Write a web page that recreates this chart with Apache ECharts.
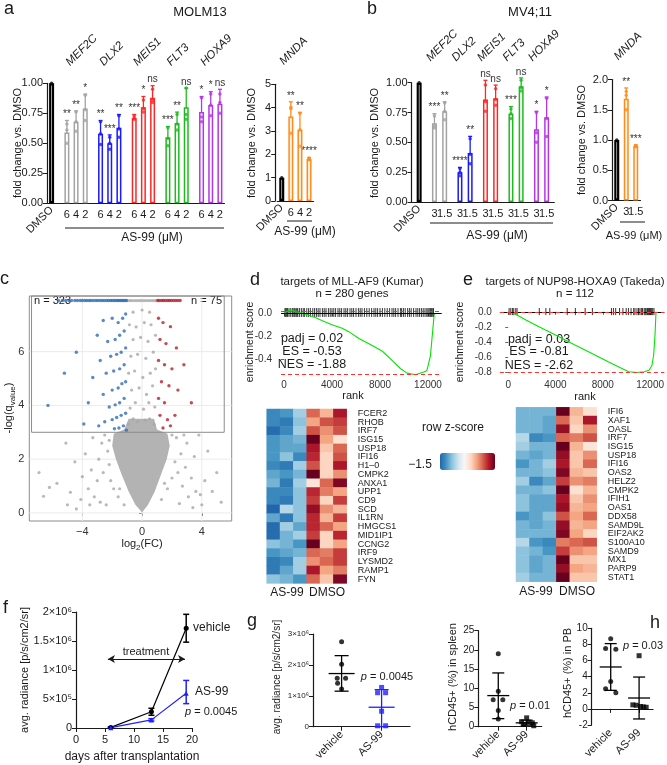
<!DOCTYPE html>
<html>
<head>
<meta charset="utf-8">
<title>AS-99 figure</title>
<style>
  html, body {margin:0; padding:0; background:#fff;}
  #main {width:667px; height:765px;}
</style>
</head>
<body>
<div id="main"></div>
<script src="https://cdn.jsdelivr.net/npm/echarts@6.0.0/dist/echarts.min.js"></script>
<script>
// ---------- a: MOLM13 ----------
var molmGenes = ['MEF2C', 'DLX2', 'MEIS1', 'FLT3', 'HOXA9'];
var molmDoses = ['6', '4', '2'];
var molmMean = [[0.59, 0.68, 0.79], [0.58, 0.50, 0.63], [0.71, 0.80, 0.88], [0.55, 0.67, 0.80], [0.76, 0.82, 0.83]];
var molmLo   = [[0.49, 0.58, 0.67], [0.47, 0.43, 0.52], [0.69, 0.72, 0.79], [0.46, 0.59, 0.65], [0.64, 0.71, 0.72]];
var molmHi   = [[0.69, 0.77, 0.91], [0.69, 0.57, 0.74], [0.74, 0.89, 0.98], [0.64, 0.76, 0.96], [0.89, 0.93, 0.95]];
var molmSig  = [['**', '**', '*'], ['**', '***', '**'], ['***', '*', 'ns'], ['***', '**', 'ns'], ['*', '*', 'ns']];
var molmPts  = [
  [[0.50, 0.61, 0.66], [0.60, 0.68, 0.76], [0.69, 0.78, 0.90]],
  [[0.49, 0.58, 0.68], [0.45, 0.50, 0.55], [0.55, 0.62, 0.73]],
  [[0.70, 0.71, 0.73], [0.76, 0.79, 0.86], [0.84, 0.86, 0.95]],
  [[0.48, 0.54, 0.63], [0.61, 0.66, 0.74], [0.70, 0.74, 0.96]],
  [[0.68, 0.72, 0.88], [0.73, 0.82, 0.91], [0.75, 0.84, 0.91]]
];
var molmMndaMean = [[3.62, 3.05, 1.80]];
var molmMndaLo   = [[3.00, 2.30, 1.74]];
var molmMndaHi   = [[4.25, 3.80, 1.86]];
var molmMndaSig  = [['**', '**', '****']];
var molmMndaPts  = [[[4.02, 3.95, 2.90], [3.75, 3.05, 2.35], [1.84, 1.78, 1.78]]];

// ---------- b: MV4;11 ----------
var mvGenes = ['MEF2C', 'DLX2', 'MEIS1', 'FLT3', 'HOXA9'];
var mvDoses = ['3', '1.5'];
var mvMean = [[0.66, 0.76], [0.25, 0.41], [0.86, 0.87], [0.74, 0.97], [0.61, 0.71]];
var mvLo   = [[0.61, 0.68], [0.21, 0.29], [0.72, 0.79], [0.69, 0.91], [0.47, 0.53]];
var mvHi   = [[0.74, 0.84], [0.29, 0.55], [1.02, 0.98], [0.80, 1.04], [0.76, 0.88]];
var mvSig  = [['***', '**'], ['****', '**'], ['ns', 'ns'], ['***', 'ns'], ['*', '*']];
var mvPts  = [
  [[0.62, 0.64, 0.72], [0.69, 0.76, 0.83]],
  [[0.22, 0.25, 0.28], [0.32, 0.40, 0.53]],
  [[0.76, 0.84, 0.98], [0.81, 0.86, 0.95]],
  [[0.70, 0.74, 0.78], [0.93, 0.96, 1.02]],
  [[0.50, 0.58, 0.75], [0.55, 0.70, 0.87]]
];
var mvMndaMean = [[1.68, 0.90]];
var mvMndaLo   = [[1.50, 0.88]];
var mvMndaHi   = [[1.86, 0.92]];
var mvMndaSig  = [['**', '***']];
var mvMndaPts  = [[[1.80, 1.74, 1.50], [0.91, 0.90, 0.89]]];

var geneColors = ['#a3a3a3', '#1a1aff', '#ff2626', '#1fba1f', '#b536e6'];
var mndaColor = '#ff8c1a';

// ---------- c: volcano ----------
var volcanoCore = [[0, 0.02], [-0.45, 0.3], [-0.9, 0.8], [-1.35, 1.4], [-1.75, 2.0], [-2.0, 2.5], [-1.9, 2.95],
  [-1.2, 3.1], [-0.9, 3.5], [0.8, 3.5], [1.0, 3.1], [1.7, 2.95], [1.85, 2.5], [1.65, 2.0], [1.25, 1.4], [0.85, 0.8],
  [0.4, 0.3]];
var volcanoGray = [[-6.6, 0.62], [-6.2, 0.95], [-5.7, 1.1], [-4.8, 0.77], [-4.0, 1.35], [-4.1, 0.5], [-3.6, 0.9], [-3.4, 1.6],
  [-3.2, 0.6], [-3.0, 1.2], [-2.9, 2.0], [-2.8, 0.4], [-2.7, 2.6], [-2.6, 1.5], [-2.5, 2.9], [-2.4, 0.3], [-2.3, 2.3],
  [-3.8, 2.2], [-4.5, 1.9], [-5.1, 2.6], [-6.9, 1.5], [-3.3, 2.8], [-2.2, 2.7], [-2.1, 1.2], [-1.9, 0.9], [-1.6, 0.6],
  [-1.2, 0.3], [-2.2, 1.8], [-1.5, 0.9], [-3.5, 0.3], [-5.0, 0.3], [-4.4, 0.15], [2.5, 0.35], [2.7, 1.0], [2.9, 1.7],
  [3.1, 0.6], [3.3, 1.3], [3.5, 2.1], [3.6, 0.8], [3.9, 0.68], [4.2, 1.2], [4.7, 0.8], [5.0, 1.5], [4.4, 2.3], [3.0, 2.6],
  [2.6, 2.2], [2.3, 2.8], [2.0, 2.9], [2.2, 1.9], [2.0, 1.3], [1.7, 0.9], [1.3, 0.5], [1.5, 1.1], [2.8, 2.9], [3.8, 2.9],
  [5.3, 0.4], [4.0, 0.3], [3.4, 0.2], [2.4, 1.5],
  [-0.9, 3.3], [-0.6, 3.5], [-0.3, 3.4], [0.2, 3.45], [0.5, 3.5], [0.8, 3.3], [-0.8, 3.9], [-0.45, 4.1], [0.1, 3.86],
  [0.45, 4.1], [0.85, 3.94], [-0.7, 4.57], [-0.2, 4.65], [0.3, 4.41], [0.7, 4.73], [-0.9, 5.2], [-0.5, 5.28], [0.05, 5.04],
  [0.55, 5.2], [0.9, 5.36], [-0.75, 5.83], [-0.3, 5.9], [0.25, 5.75], [0.75, 5.98], [-0.6, 6.45], [-0.1, 6.53],
  [0.4, 6.38], [0.9, 6.61], [-0.85, 7.0], [-0.4, 6.92], [0.15, 7.08], [0.6, 7.0], [-0.6, 7.47], [0.0, 7.55], [0.5, 7.47],
  [-0.95, 7.9], [-0.8, 7.9], [-0.66, 7.9], [-0.5, 7.9], [-0.36, 7.9], [-0.2, 7.9], [-0.06, 7.9], [0.1, 7.9],
  [0.24, 7.9], [0.4, 7.9], [0.55, 7.9], [0.7, 7.9], [0.84, 7.9], [0.96, 7.9]];
var volcanoDown = [[-5.6, 7.9], [-5.33, 7.9], [-5.12, 7.9], [-4.9, 7.9], [-4.72, 7.9], [-4.5, 7.9], [-4.33, 7.9],
  [-4.15, 7.9], [-4.0, 7.9], [-3.84, 7.9], [-3.7, 7.9], [-3.55, 7.9], [-3.42, 7.9], [-3.26, 7.9], [-3.1, 7.9],
  [-2.96, 7.9], [-2.8, 7.9], [-2.66, 7.9], [-2.52, 7.9], [-2.37, 7.9], [-2.25, 7.9], [-2.11, 7.9], [-2.0, 7.9],
  [-1.87, 7.9], [-1.76, 7.9], [-1.64, 7.9], [-1.55, 7.9], [-1.44, 7.9], [-1.34, 7.9], [-1.25, 7.9], [-1.14, 7.9],
  [-1.05, 7.9],
  [-1.1, 7.4], [-1.3, 7.24], [-1.6, 7.08], [-2.0, 7.24], [-2.6, 7.16], [-1.2, 6.77], [-1.5, 6.61], [-1.8, 6.45],
  [-2.3, 6.38], [-3.0, 6.61], [-1.1, 6.14], [-1.4, 5.98], [-1.7, 5.9], [-2.1, 5.83], [-2.8, 5.67], [-4.4, 5.98],
  [-1.2, 5.51], [-1.5, 5.36], [-1.9, 5.28], [-2.4, 5.2], [-3.3, 5.04], [-5.2, 5.2], [-1.1, 4.88], [-1.35, 4.81],
  [-1.6, 4.65], [-2.0, 4.57], [-2.6, 4.41], [-1.2, 4.26], [-1.5, 4.1], [-1.8, 4.02], [-2.2, 3.94], [-3.6, 4.1],
  [-1.1, 3.71], [-1.4, 3.63], [-1.7, 3.55], [-2.0, 3.47], [-2.5, 3.39], [-1.25, 3.24], [-1.55, 3.16], [-1.85, 3.13],
  [-2.9, 3.24], [-1.05, 3.08], [-6.3, 4.0], [-3.9, 3.31]];
var volcanoUp = [[1.05, 7.9], [1.15, 7.9], [1.3, 7.9], [1.42, 7.9], [1.55, 7.9], [1.7, 7.9], [1.82, 7.9],
  [1.95, 7.9], [2.1, 7.9], [2.25, 7.9], [2.4, 7.9], [2.55, 7.9],
  [1.1, 7.24], [1.4, 7.08], [1.9, 6.93], [1.2, 6.45], [1.6, 6.3], [2.3, 6.14], [1.1, 5.67], [1.5, 5.51], [2.0, 5.36],
  [2.8, 5.51], [1.3, 4.88], [1.8, 4.73], [2.4, 4.57], [1.1, 4.26], [1.5, 4.1], [1.2, 3.63], [1.7, 3.47], [2.2, 3.63],
  [1.4, 3.16], [3.3, 4.1], [1.9, 3.24]];
var volcanoBox = [[-7.4, 3.0, 5.5, 8.07]];
var volcanoCounts = ['n = 323', 'n = 75'];
var volcanoTicksX = [-4, 0, 4];
var volcanoTicksY = [0, 2, 4, 6];

// ---------- d / e: GSEA ----------
var rankTicks = [0, 4000, 8000, 12000];
var kumarCurve = [[0, 0], [250, 0.015], [550, 0.03], [900, 0.015], [1500, 0], [2000, -0.015], [2640, -0.04], [3300, -0.07],
  [4000, -0.10], [4850, -0.13], [5400, -0.16], [6240, -0.22], [7350, -0.28], [8200, -0.33], [9000, -0.41], [9700, -0.48],
  [10250, -0.52], [10950, -0.535], [11650, -0.51], [11900, -0.50], [12200, -0.37], [12470, -0.06], [12530, 0]];
var kumarRug = [80, 150, 230, 300, 420, 560, 700, 820, 900, 1000, 1080, 1150, 1300, 1450, 1600, 1700, 1900, 2050, 2200,
  2400, 2550, 2700, 2850, 3000, 3200, 3350, 3500, 3700, 3850, 4000, 4150, 4300, 4500, 4650, 4800, 5000, 5150, 5300,
  5500, 5650, 5800, 6000, 6200, 6350, 6500, 6700, 6900, 7100, 7300, 7500, 7650, 7800, 8000, 8200, 8400, 8600, 8800,
  9000, 9150, 9300, 9500, 9700, 9800, 9950, 10100, 10300, 10450, 10600, 10800, 11000, 11150, 11300, 11450, 11600,
  11750, 11900, 12000, 12100, 12200, 12300, 12400, 12450];
var kumarStats = [0.02, -0.53, -1.88];
var takedaCurve = [[0, 0], [300, -0.01], [700, -0.04], [1500, -0.11], [2600, -0.20], [3500, -0.27], [4500, -0.35],
  [5600, -0.44], [6500, -0.51], [7500, -0.59], [8500, -0.67], [9400, -0.74], [10200, -0.80], [10900, -0.81],
  [11500, -0.80], [11900, -0.78], [12150, -0.72], [12300, -0.58], [12420, -0.30], [12500, 0]];
var takedaRug = [80, 220, 360, 470, 640, 750, 2630, 3190, 3520, 4990, 5680, 6510, 7120, 8730, 8900, 9090, 9420, 9700,
  9980, 10170, 10390, 10610, 10720, 10890, 11020, 11140, 11260, 11360, 11500, 11590, 11670, 11780, 11860, 11950,
  12040, 12130, 12220, 12330];
var takedaStats = [0.03, -0.81, -2.62];

// ---------- heatmaps ----------
var heatCols = ['AS-99 r1', 'AS-99 r2', 'AS-99 r3', 'DMSO r1', 'DMSO r2', 'DMSO r3'];
var kumarGenes = ['FCER2', 'RHOB', 'IRF7', 'ISG15', 'USP18', 'IFI16', 'H1\u20130', 'CMPK2', 'ANXA1', 'UPP1', 'CD9', 'SCD',
  'IL1RN', 'HMGCS1', 'MID1IP1', 'CCNG2', 'IRF9', 'LYSMD2', 'RAMP1', 'FYN'];
var kumarZ = [
  [-1.25, -1.15, -0.75, 0.8, 0.4, 1.2], [-1.25, -1.35, -0.85, 0.5, 0.9, 1.0], [-1.45, -1.25, -0.75, 0.9, 0.6, 0.9],
  [-1.15, -1.05, -0.95, 1.5, 0.5, 0.1], [-1.15, -1.05, -1.05, 1.2, 0.3, 0.8], [-1.15, -0.85, -1.25, 1.1, 0.2, 0.9],
  [-1.25, -1.35, -0.75, 0.9, 0.2, 1.2], [-1.05, -1.15, -0.95, 1.5, 0.2, 0.6], [-0.95, -1.35, -0.75, 0.05, 0.8, 1.4],
  [-1.25, -1.25, -0.85, 1.1, 0.7, 0.5], [-1.25, -1.35, -0.85, 1.0, 0.2, 1.0], [-1.5, -0.65, -0.85, 1.3, 0.6, 0.4],
  [-1.05, -1.35, -0.85, 1.1, 0.4, 1.0], [-1.45, -0.75, -1.05, 1.1, 0.8, 0.5], [-1.45, -0.95, -0.75, 1.0, 0.2, 1.1],
  [-0.85, -0.95, -1.15, 1.6, 0.2, 0.5], [-1.15, -1.05, -0.95, 0.8, 0.7, 1.0], [-1.35, -1.25, -0.75, 0.6, 0.8, 1.0],
  [-1.35, -1.05, -0.75, 1.2, 0.5, 0.7], [-0.85, -0.95, -1.15, 0.8, 0.3, 1.4]];
var takedaGenes = ['IFI6', 'XAF1', 'OASL', 'IRF7', 'ISG15', 'USP18', 'IFI16', 'OAS2', 'HELZ2', 'CMPK2', 'IFIH1', 'OAS1',
  'DDX58', 'SAMD9L', 'EIF2AK2', 'S100A10', 'SAMD9', 'MX1', 'PARP9', 'STAT1'];
var takedaZ = [
  [-0.95, -0.95, -0.95, 1.6, 0.4, 0.1], [-0.95, -0.95, -1.05, 0.8, 0.3, 1.2], [-0.95, -0.95, -1.05, 1.3, 0.2, 0.6],
  [-0.65, -1.25, -1.15, 0.8, 0.7, 0.9], [-0.75, -0.95, -0.95, 1.6, 0.4, 0.05], [-0.95, -1.05, -0.95, 1.3, 0.3, 0.6],
  [-1.15, -0.95, -0.75, 1.2, 0.3, 0.8], [-0.95, -0.95, -0.85, 1.4, 0.4, 0.3], [-0.75, -1.25, -1.05, 1.0, 0.6, 0.7],
  [-0.95, -0.95, -0.85, 1.5, 0.1, 0.4], [-0.85, -1.05, -1.05, 1.2, 0.3, 0.6], [-0.85, -1.05, -1.05, 1.3, 0.4, 0.5],
  [-1.15, -1.05, -0.85, 0.9, 0.5, 0.8], [-0.95, -1.05, -0.95, 1.3, 0.4, 0.5], [-0.95, -0.95, -0.95, 1.4, 0.5, 0.2],
  [-0.65, -1.15, -1.25, 0.7, 0.8, 0.9], [-0.85, -0.95, -1.15, 1.0, 0.6, 0.5], [-0.85, -1.05, -0.95, 1.5, 0.3, 0.3],
  [-0.85, -1.05, -0.95, 1.3, 0.5, 0.4], [-0.75, -0.95, -0.95, 1.5, 0.3, 0.3]];
var heatColors = ['#2166ac', '#4393c3', '#92c5de', '#d1e5f0', '#f7f7f7', '#fddbc7', '#f4a582', '#d6604d', '#b2182b', '#67001f'];

// ---------- f: radiance over time ----------
var radDays = [6, 13, 19];
var vehRad = [0.01e6, 0.28e6, 1.72e6];
var vehRadLo = [0.0, 0.22e6, 1.48e6];
var vehRadHi = [0.02e6, 0.34e6, 1.96e6];
var asRad = [0.005e6, 0.14e6, 0.60e6];
var asRadLo = [0.0, 0.12e6, 0.42e6];
var asRadHi = [0.01e6, 0.16e6, 0.82e6];
var treatmentDays = [5.5, 18.8];
var radTickLabels = ['0', '5\u00d710\u2075', '1\u00d710\u2076', '1.5\u00d710\u2076', '2\u00d710\u2076'];

// ---------- g / h: scatter with mean + SD ----------
var groupNames = ['vehicle', 'AS-99'];
var gVeh = [[1, 2.75e6], [1, 2.02e6], [0.89, 1.57e6], [1.1, 1.57e6], [0.9, 1.41e6], [1, 1.22e6]];
var gAs = [[2, 1.27e6], [1.9, 1.1e6], [2.1, 1.1e6], [2, 0.5e6], [1.9, 0.03e6], [2.1, 0.03e6]];
var gStats = [[1, 1.72e6, 1.15e6, 2.3e6], [2, 0.63e6, 0.0, 1.2e6]];
var gTickLabels = ['0', '1\u00d710\u2076', '2\u00d710\u2076', '3\u00d710\u2076'];
var h1Veh = [[1, 19], [1, 9.2], [0.82, 7.0], [1.16, 7.0], [1, 4.2], [1, 2.0]];
var h1As = [[2, 2.3], [1.82, 1.3], [2.05, 1.2], [2.2, 1.0], [1.9, 0.6], [2.25, 0.25]];
var h1Stats = [[1, 8.1, 2.1, 14.0], [2, 1.0, 0.4, 1.7]];
var h2Veh = [[1, 8.7], [0.82, 7.5], [1.18, 7.4], [1, 3.4], [0.82, 2.5], [1.18, 2.0]];
var h2As = [[2, 6.6], [1.78, 0.5], [1.9, 0.45], [2.05, 0.3], [2.15, 0.25], [2.25, 0.2]];
var h2Stats = [[1, 5.2, 2.3, 8.1], [2, 1.35, -1.25, 3.95]];

// =====================================================================
var FONT = 'Liberation Sans';
var INK = '#1a1a1a';
var opt = {
  animation: false,
  textStyle: {fontFamily: FONT, color: INK},
  grid: [], xAxis: [], yAxis: [], series: [], graphic: [], visualMap: []
};

function txt(x, y, s, st) {
  var style = Object.assign({x: x, y: y, text: s, fontFamily: FONT, fontSize: 11, fill: INK,
    align: 'center', textAlign: 'center', verticalAlign: 'middle', textVerticalAlign: 'middle'}, st || {});
  opt.graphic.push({type: 'text', silent: true, style: style});
}
function vtxt(x, y, s, st) {
  var style = Object.assign({x: 0, y: 0, text: s, fontFamily: FONT, fontSize: 11, fill: INK,
    align: 'center', textAlign: 'center', verticalAlign: 'middle', textVerticalAlign: 'middle'}, st || {});
  opt.graphic.push({type: 'text', silent: true, x: x, y: y, rotation: Math.PI / 2, style: style});
}
function hline(x1, x2, y) {
  opt.graphic.push({type: 'line', silent: true, shape: {x1: x1, y1: y, x2: x2, y2: y}, style: {stroke: INK, lineWidth: 1}});
}

function addBarPanel(p) {
  var gi = opt.grid.length;
  opt.grid.push({left: p.left, top: p.top, width: p.width, height: p.height});
  var cats = [], lab = [], bars = [];
  for (var i = 0; i < p.total; i++) { cats.push('s' + i); lab.push(''); bars.push('-'); }
  var errs = [], sigs = [], dots = [], heads = [];
  bars[p.dmso] = {value: 1, itemStyle: {borderColor: '#000', borderWidth: 2.2}};
  dots.push({value: [p.dmso, 1], itemStyle: {color: '#000'}});
  p.genes.forEach(function (gene, g) {
    var col = p.colors[g];
    p.doses.forEach(function (dose, m) {
      var s = p.slot(g, m);
      lab[s] = dose;
      bars[s] = {value: p.mean[g][m], itemStyle: {borderColor: col}};
      errs.push({value: [s, p.lo[g][m], p.hi[g][m]], itemStyle: {color: col}});
      sigs.push(p.sig[g][m]);
      p.pts[g][m].forEach(function (v) { dots.push({value: [s, v], itemStyle: {color: col}}); });
    });
    heads.push({value: [p.geneSlot(g), p.ymax], name: gene});
  });
  var xi = opt.xAxis.length, yi = opt.yAxis.length;
  opt.xAxis.push({gridIndex: gi, type: 'category', data: cats,
    axisLine: {lineStyle: {color: INK, width: 1.2}},
    axisTick: {alignWithLabel: true, length: 4, lineStyle: {color: INK},
      interval: function (idx) { return lab[idx] !== '' || idx === p.dmso; }},
    axisLabel: {interval: 0, margin: 6, fontSize: 11, color: INK, hideOverlap: false,
      formatter: function (v, idx) { return lab[idx]; }}});
  opt.xAxis.push({gridIndex: gi, type: 'category', data: cats, position: 'bottom',
    axisLine: {show: false}, axisTick: {show: false},
    axisLabel: {interval: 0, rotate: 45, margin: 5, fontSize: 11, color: INK,
      formatter: function (v, idx) { return idx === p.dmso ? 'DMSO' : ''; }}});
  opt.yAxis.push({gridIndex: gi, type: 'value', min: 0, max: p.ymax, interval: p.yint, offset: p.yoff || 0,
    axisLine: {show: true, lineStyle: {color: INK, width: 1.2}},
    axisTick: {show: true, length: 4, lineStyle: {color: INK}}, splitLine: {show: false},
    axisLabel: {fontSize: 11, margin: 4, color: INK, formatter: function (v) { return v.toFixed(p.ydec); }}});
  opt.series.push({type: 'bar', xAxisIndex: xi, yAxisIndex: yi, data: bars, barWidth: 5, silent: true,
    itemStyle: {color: p.fill || '#fff', borderWidth: 1.5}});
  opt.series.push({type: 'scatter', xAxisIndex: xi, yAxisIndex: yi, data: dots, symbolSize: 3.5, clip: false, silent: true});
  opt.series.push({type: 'custom', xAxisIndex: xi, yAxisIndex: yi, data: errs, clip: false, silent: true,
    renderItem: function (params, api) {
      var a = api.coord([api.value(0), api.value(1)]);
      var b = api.coord([api.value(0), api.value(2)]);
      var st = {stroke: api.visual('color'), lineWidth: 1.3};
      return {type: 'group', children: [
        {type: 'line', shape: {x1: a[0], y1: a[1], x2: b[0], y2: b[1]}, style: st},
        {type: 'line', shape: {x1: a[0] - 2, y1: a[1], x2: a[0] + 2, y2: a[1]}, style: st},
        {type: 'line', shape: {x1: b[0] - 2, y1: b[1], x2: b[0] + 2, y2: b[1]}, style: st},
        {type: 'text', style: {text: sigs[params.dataIndex], x: b[0], y: b[1] - 1, fontSize: 10, fill: '#333',
          fontFamily: FONT, align: 'center', textAlign: 'center', verticalAlign: 'bottom', textVerticalAlign: 'bottom'}}
      ]};
    }});
  // rotated gene names above each group
  opt.series.push({type: 'custom', xAxisIndex: xi, yAxisIndex: yi, data: heads, clip: false, silent: true,
    renderItem: function (params, api) {
      var c = api.coord([api.value(0), api.value(1)]);
      return {type: 'text', x: c[0] + p.headDx, y: c[1] - p.headDy, rotation: Math.PI / 4,
        style: {text: heads[params.dataIndex].name, fontSize: 11.5, fontStyle: 'italic', fontFamily: FONT, fill: INK,
          align: 'left', textAlign: 'left', verticalAlign: 'bottom', textVerticalAlign: 'bottom'}};
    }});
}

// a main
addBarPanel({left: 47, top: 83.3, width: 177.5, height: 120, total: 58, dmso: 1,
  slot: function (g, m) { return 6 + 11 * g + 3 * m; }, geneSlot: function (g) { return 9 + 11 * g; },
  genes: molmGenes, doses: molmDoses, colors: geneColors, mean: molmMean, lo: molmLo, hi: molmHi,
  sig: molmSig, pts: molmPts, ymax: 1, yint: 0.25, ydec: 2, headDx: -4, headDy: 15});
// a MNDA
addBarPanel({left: 277.2, top: 84.3, width: 36.4, height: 116.7, total: 4, dmso: 0, yoff: 2,
  slot: function (g, m) { return 1 + m; }, geneSlot: function () { return 1; },
  genes: ['MNDA'], doses: molmDoses, colors: [mndaColor], mean: molmMndaMean, lo: molmMndaLo, hi: molmMndaHi,
  sig: molmMndaSig, pts: molmMndaPts, ymax: 5, yint: 1, ydec: 0, headDx: -5, headDy: 17, fill: '#fff3e8'});
// b main
addBarPanel({left: 411.5, top: 82.7, width: 142.8, height: 119.3, total: 28, dmso: 1,
  slot: function (g, m) { return 4 + 5 * g + 2 * m; }, geneSlot: function (g) { return 5 + 5 * g; },
  genes: mvGenes, doses: mvDoses, colors: geneColors, mean: mvMean, lo: mvLo, hi: mvHi,
  sig: mvSig, pts: mvPts, ymax: 1, yint: 0.25, ydec: 2, headDx: -7, headDy: 19});
// b MNDA
addBarPanel({left: 612, top: 79.5, width: 28.5, height: 121, total: 3, dmso: 0,
  slot: function (g, m) { return 1 + m; }, geneSlot: function () { return 1; },
  genes: ['MNDA'], doses: mvDoses, colors: [mndaColor], mean: mvMndaMean, lo: mvMndaLo, hi: mvMndaHi,
  sig: mvMndaSig, pts: mvMndaPts, ymax: 2, yint: 0.5, ydec: 1, headDx: -6, headDy: 17, fill: '#fff3e8'});

txt(4, 9, 'a', {fontSize: 18, align: 'left', textAlign: 'left'});
txt(367, 9, 'b', {fontSize: 18, align: 'left', textAlign: 'left'});
txt(200, 12, 'MOLM13', {fontSize: 13});
txt(530, 12, 'MV4;11', {fontSize: 13});
vtxt(18, 143, 'fold change vs. DMSO');
vtxt(252, 143, 'fold change vs. DMSO');
vtxt(375, 143, 'fold change vs. DMSO');
vtxt(582, 140, 'fold change vs. DMSO');
hline(65, 224, 228); txt(152, 238, 'AS-99 (\u03bcM)', {fontSize: 12});
hline(287, 312, 221); txt(305, 232, 'AS-99 (\u03bcM)', {fontSize: 12});
hline(430, 553, 223); txt(497, 236, 'AS-99 (\u03bcM)', {fontSize: 12});
hline(620, 645, 222); txt(634, 236, 'AS-99 (\u03bcM)', {fontSize: 11});

// ---------- c: volcano ----------
(function () {
  var gi = opt.grid.length;
  opt.grid.push({left: 29.3, top: 296, width: 202.4, height: 225, show: true, borderColor: '#8c8c8c', borderWidth: 1});
  var xi = opt.xAxis.length, yi = opt.yAxis.length;
  opt.xAxis.push({gridIndex: gi, type: 'value', min: -7.55, max: 6.0, axisLine: {show: false}, splitLine: {show: false},
    axisTick: {show: true, customValues: volcanoTicksX, length: 3, lineStyle: {color: '#555'}},
    axisLabel: {customValues: volcanoTicksX, fontSize: 11, color: '#333', margin: 5, hideOverlap: false,
      formatter: function (v) { return v < 0 ? '\u2212' + Math.abs(v) : String(v); }}});
  opt.yAxis.push({gridIndex: gi, type: 'value', min: -0.3, max: 8.07, axisLine: {show: false}, splitLine: {show: false},
    axisTick: {show: true, customValues: volcanoTicksY, length: 3, lineStyle: {color: '#555'}},
    axisLabel: {customValues: volcanoTicksY, fontSize: 11, color: '#333', margin: 5, hideOverlap: false}});
  opt.series.push({type: 'custom', xAxisIndex: xi, yAxisIndex: yi, data: [[0, 0]], silent: true,
    renderItem: function (params, api) {
      var kids = [];
      var lo = api.coord([-7.55, -0.3]), hi = api.coord([6.0, 8.07]);
      volcanoTicksX.forEach(function (t) {
        var x = api.coord([t, 0])[0];
        kids.push({type: 'line', shape: {x1: x, y1: lo[1], x2: x, y2: hi[1]}, style: {stroke: '#ebebeb', lineWidth: 1}});
      });
      volcanoTicksY.forEach(function (t) {
        var y = api.coord([0, t])[1];
        kids.push({type: 'line', shape: {x1: lo[0], y1: y, x2: hi[0], y2: y}, style: {stroke: '#ebebeb', lineWidth: 1}});
      });
      kids.push({type: 'polygon', shape: {points: volcanoCore.map(function (q) { return api.coord(q); })},
        style: {fill: '#b3b3b3'}});
      return {type: 'group', children: kids};
    }});
  opt.series.push({type: 'scatter', xAxisIndex: xi, yAxisIndex: yi, data: volcanoGray, symbolSize: 3.2, silent: true,
    itemStyle: {color: '#a8a8a8'}});
  opt.series.push({type: 'scatter', xAxisIndex: xi, yAxisIndex: yi, data: volcanoDown, symbolSize: 3.4, silent: true,
    itemStyle: {color: '#2f6db5'}});
  opt.series.push({type: 'scatter', xAxisIndex: xi, yAxisIndex: yi, data: volcanoUp, symbolSize: 3.4, silent: true,
    itemStyle: {color: '#b5202b'}});
  opt.series.push({type: 'custom', xAxisIndex: xi, yAxisIndex: yi, data: volcanoBox, silent: true,
    renderItem: function (params, api) {
      var a = api.coord([api.value(0), api.value(1)]), b = api.coord([api.value(2), api.value(3)]);
      return {type: 'rect', shape: {x: a[0], y: b[1], width: b[0] - a[0], height: a[1] - b[1]},
        style: {fill: 'none', stroke: '#8c8c8c', lineWidth: 1}};
    }});
})();
txt(0, 279, 'c', {fontSize: 18, align: 'left', textAlign: 'left'});
txt(34, 301, volcanoCounts[0], {fontSize: 11, align: 'left', textAlign: 'left'});
txt(222, 301, volcanoCounts[1], {fontSize: 11, align: 'right', textAlign: 'right'});
vtxt(9, 408, '-log(q{s|value})', {rich: {s: {fontSize: 8, lineHeight: 9, verticalAlign: 'bottom', fontFamily: FONT}}, lineHeight: 15});
txt(142, 544, 'log{s|2}(FC)', {rich: {s: {fontSize: 8, lineHeight: 9, verticalAlign: 'bottom', fontFamily: FONT}}, lineHeight: 15});

// ---------- d / e: GSEA ----------
function addGsea(p) {
  var gi = opt.grid.length;
  opt.grid.push({left: p.left, top: p.top, width: p.width, height: p.height});
  var xi = opt.xAxis.length, yi = opt.yAxis.length;
  opt.xAxis.push({gridIndex: gi, type: 'value', min: p.xmin, max: p.xmax, axisLine: {show: false}, splitLine: {show: false},
    axisTick: {show: true, customValues: rankTicks, length: 3, lineStyle: {color: '#666'}},
    axisLabel: {customValues: rankTicks, fontSize: 10, color: '#333', margin: p.xMargin, hideOverlap: false,
      formatter: function (v) { return String(v); }}});
  opt.yAxis.push({gridIndex: gi, type: 'value', min: p.ymin, max: p.ymax, axisLine: {show: false}, splitLine: {show: false},
    axisTick: {show: true, customValues: p.yticks, length: 3, lineStyle: {color: '#666'}},
    axisLabel: {show: false}});
  // y tick labels drawn at the left edge of the panel
  opt.series.push({type: 'custom', xAxisIndex: xi, yAxisIndex: yi, clip: false, silent: true,
    data: p.yticks.map(function (v) { return [p.xmin, v]; }),
    renderItem: function (params, api) {
      var c = api.coord([api.value(0), api.value(1)]);
      return {type: 'text', style: {text: api.value(1).toFixed(1), x: c[0] - 3 - p.yMargin, y: c[1], fontSize: 10,
        fill: '#333', fontFamily: FONT, align: 'right', textAlign: 'right', verticalAlign: 'middle', textVerticalAlign: 'middle'}};
    }});
  opt.series.push({type: 'custom', xAxisIndex: xi, yAxisIndex: yi, data: p.rug.map(function (r) { return [r]; }), silent: true,
    renderItem: function (params, api) {
      var a = api.coord([api.value(0), p.rugSpan[0]]), b = api.coord([api.value(0), p.rugSpan[1]]);
      return {type: 'line', shape: {x1: a[0], y1: a[1], x2: b[0], y2: b[1]}, style: {stroke: '#000', lineWidth: 0.8}};
    }});
  opt.series.push({type: 'line', xAxisIndex: xi, yAxisIndex: yi, data: p.curve, symbol: 'none', silent: true,
    lineStyle: {color: '#00e600', width: 1.1}, z: 4,
    markLine: {symbol: 'none', silent: true, label: {show: false},
      data: [
        {yAxis: 0, lineStyle: {color: '#000', type: 'solid', width: 1}},
        {yAxis: p.esMax, lineStyle: {color: '#ff3030', type: [4, 3], width: 1}},
        {yAxis: p.stats[1], lineStyle: {color: '#ff3030', type: [4, 3], width: 1}}
      ]}});
  txt(p.statX, p.statY[0], 'padj = ' + p.stats[0].toFixed(2), {fontSize: 12.5});
  txt(p.statX, p.statY[1], 'ES = ' + p.stats[1].toFixed(2), {fontSize: 12.5});
  txt(p.statX, p.statY[2], 'NES = ' + p.stats[2].toFixed(2), {fontSize: 12.5});
}
addGsea({left: 281, top: 307.5, width: 160.7, height: 70.2, xmin: -250, xmax: 13140, ymin: -0.56, ymax: 0.05,
  yticks: [-0.4, -0.2, 0], xMargin: 3, yMargin: 6, rug: kumarRug, rugSpan: [0.045, -0.032], curve: kumarCurve,
  esMax: 0.02, stats: kumarStats, statX: 312, statY: [339, 352, 365]});
addGsea({left: 499.9, top: 308, width: 166.8, height: 66, xmin: -700, xmax: 13200, ymin: -0.83, ymax: 0.05,
  yticks: [-0.8, -0.6, -0.4, -0.2, 0], xMargin: 6, yMargin: 5, rug: takedaRug, rugSpan: [0.05, -0.045],
  curve: takedaCurve, esMax: 0, stats: takedaStats, statX: 539, statY: [340, 352, 366]});
txt(250, 280, 'd', {fontSize: 18, align: 'left', textAlign: 'left'});
txt(463, 280, 'e', {fontSize: 18, align: 'left', textAlign: 'left'});
txt(352, 282, 'targets of MLL-AF9 (Kumar)', {fontSize: 11.5});
txt(352, 294, 'n = 280 genes', {fontSize: 11.5});
txt(575, 282, 'targets of NUP98-HOXA9 (Takeda)', {fontSize: 11.5});
txt(575, 294, 'n = 112', {fontSize: 11.5});
vtxt(250, 342, 'enrichment score', {fontSize: 10.5});
vtxt(460, 342, 'enrichment score', {fontSize: 10.5});
txt(353, 396, 'rank', {fontSize: 11});
txt(585, 397, 'rank', {fontSize: 11});

// ---------- heatmaps ----------
function addHeat(p) {
  var gi = opt.grid.length;
  opt.grid.push({left: p.left, top: p.top, width: p.width, height: p.height});
  var xi = opt.xAxis.length, yi = opt.yAxis.length;
  opt.xAxis.push({gridIndex: gi, type: 'category', data: heatCols, show: false});
  opt.yAxis.push({gridIndex: gi, type: 'category', data: p.genes, inverse: true, position: 'right',
    axisLine: {show: false}, axisTick: {show: false}, splitLine: {show: false},
    axisLabel: {interval: 0, fontSize: 9, color: INK, margin: 11, hideOverlap: false}});
  var data = [];
  p.z.forEach(function (row, r) { row.forEach(function (v, c) { data.push([c, r, v]); }); });
  opt.series.push({type: 'heatmap', xAxisIndex: xi, yAxisIndex: yi, data: data, silent: true});
  return opt.series.length - 1;
}
var hs1 = addHeat({left: 266.7, top: 409, width: 80, height: 174.4, genes: kumarGenes, z: kumarZ});
var hs2 = addHeat({left: 516, top: 407.3, width: 80.7, height: 174.4, genes: takedaGenes, z: takedaZ});
opt.visualMap.push({type: 'continuous', min: -1.5, max: 1.5, dimension: 2, seriesIndex: [hs1, hs2],
  orient: 'horizontal', left: 425, top: 438, itemWidth: 17, itemHeight: 55, calculable: false, showLabel: false,
  text: null, inRange: {color: heatColors}, hoverLink: false});
txt(453, 428, 'row z-score', {fontSize: 12});
txt(420, 465, '\u22121.5', {fontSize: 12});
txt(479, 465, '1.5', {fontSize: 12});
txt(287, 593, 'AS-99', {fontSize: 12});
txt(327, 593, 'DMSO', {fontSize: 12});
txt(536, 592, 'AS-99', {fontSize: 12});
txt(577, 592, 'DMSO', {fontSize: 12});

// ---------- f ----------
function meanErrSeries(xi, yi, rows, color, halfW, cap, lw) {
  return {type: 'custom', xAxisIndex: xi, yAxisIndex: yi, data: rows, silent: true, clip: false,
    renderItem: function (params, api) {
      var x = api.value(0);
      var m = api.coord([x, api.value(1)]), lo = api.coord([x, api.value(2)]), hi = api.coord([x, api.value(3)]);
      var st = {stroke: color, lineWidth: lw};
      var kids = [
        {type: 'line', shape: {x1: lo[0], y1: lo[1], x2: hi[0], y2: hi[1]}, style: st},
        {type: 'line', shape: {x1: lo[0] - cap, y1: lo[1], x2: lo[0] + cap, y2: lo[1]}, style: st},
        {type: 'line', shape: {x1: hi[0] - cap, y1: hi[1], x2: hi[0] + cap, y2: hi[1]}, style: st}
      ];
      if (halfW > 0) kids.push({type: 'line', shape: {x1: m[0] - halfW, y1: m[1], x2: m[0] + halfW, y2: m[1]}, style: st});
      return {type: 'group', children: kids};
    }};
}
function axisStyle() {
  return {axisLine: {show: true, lineStyle: {color: INK, width: 1.2}}, axisTick: {show: true, length: 4, lineStyle: {color: INK}},
    splitLine: {show: false}};
}
(function () {
  var gi = opt.grid.length;
  opt.grid.push({left: 76, top: 612, width: 116, height: 116});
  var xi = opt.xAxis.length, yi = opt.yAxis.length;
  opt.xAxis.push(Object.assign({gridIndex: gi, type: 'value', min: 0, max: 20, interval: 5,
    axisLabel: {fontSize: 11, color: INK, margin: 6}}, axisStyle()));
  opt.yAxis.push(Object.assign({gridIndex: gi, type: 'value', min: 0, max: 2e6, interval: 5e5,
    axisLabel: {fontSize: 11, color: INK, margin: 4, formatter: function (v) { return radTickLabels[Math.round(v / 5e5)]; }}},
    axisStyle()));
  var vehErr = radDays.map(function (d, i) { return [d, vehRad[i], vehRadLo[i], vehRadHi[i]]; });
  var asErr = radDays.map(function (d, i) { return [d, asRad[i], asRadLo[i], asRadHi[i]]; });
  opt.series.push(meanErrSeries(xi, yi, vehErr, '#000', 0, 3, 1.5));
  opt.series.push(meanErrSeries(xi, yi, asErr, '#2020ff', 0, 3, 1.5));
  opt.series.push({type: 'line', xAxisIndex: xi, yAxisIndex: yi, silent: true,
    data: radDays.map(function (d, i) { return [d, vehRad[i]]; }),
    symbol: 'circle', symbolSize: 5, itemStyle: {color: '#000'}, lineStyle: {color: '#000', width: 1.2},
    markLine: {silent: true, symbol: ['arrow', 'arrow'], symbolSize: [6, 7], label: {show: false},
      lineStyle: {color: INK, type: 'solid', width: 1},
      data: [[{coord: [treatmentDays[0], 1.19e6]}, {coord: [treatmentDays[1], 1.19e6]}]]}});
  opt.series.push({type: 'line', xAxisIndex: xi, yAxisIndex: yi, silent: true,
    data: radDays.map(function (d, i) { return [d, asRad[i]]; }),
    symbol: 'triangle', symbolSize: 5, itemStyle: {color: '#2020ff'}, lineStyle: {color: '#2020ff', width: 1.2}});
})();
txt(3, 608, 'f', {fontSize: 18, align: 'left', textAlign: 'left'});
txt(146, 652, 'treatment', {fontSize: 11});
txt(193, 628, 'vehicle', {fontSize: 12, align: 'left', textAlign: 'left'});
txt(195, 692, 'AS-99', {fontSize: 12, align: 'left', textAlign: 'left'});
txt(185, 712, '{i|p} = 0.0045', {fontSize: 11, align: 'left', textAlign: 'left', rich: {i: {fontStyle: 'italic', fontSize: 11, fontFamily: FONT}}});
vtxt(25, 670, 'avg. radiance [p/s/cm2/sr]', {fontSize: 11});
txt(132, 757, 'days after transplantation', {fontSize: 12});

// ---------- g / h ----------
function addDotPanel(p) {
  var gi = opt.grid.length;
  opt.grid.push({left: p.left, top: p.top, width: p.width, height: p.height});
  var xi = opt.xAxis.length, yi = opt.yAxis.length;
  opt.xAxis.push(Object.assign({gridIndex: gi, type: 'value', min: p.xmin, max: p.xmax}, axisStyle(),
    {axisTick: {show: true, customValues: [1, 2], length: 4, lineStyle: {color: INK}},
     axisLabel: {customValues: [1, 2], rotate: 45, fontSize: 11, color: INK, margin: 6, hideOverlap: false,
       formatter: function (v) { return groupNames[Math.round(v) - 1]; }}}));
  opt.yAxis.push(Object.assign({gridIndex: gi, type: 'value', min: p.ymin, max: p.ymax, interval: p.yint},
    axisStyle(), {axisLabel: {fontSize: p.yfs, color: INK, margin: 4, formatter: p.yfmt}}));
  opt.series.push(meanErrSeries(xi, yi, p.stats.slice(0, 1), '#000', p.halfW, p.cap, 1.3));
  opt.series.push(meanErrSeries(xi, yi, p.stats.slice(1), p.asColor, p.halfW, p.cap, 1.3));
  opt.series.push({type: 'scatter', xAxisIndex: xi, yAxisIndex: yi, data: p.veh, symbol: 'circle', symbolSize: 5,
    itemStyle: {color: '#000'}, silent: true, clip: false});
  opt.series.push({type: 'scatter', xAxisIndex: xi, yAxisIndex: yi, data: p.as, symbol: 'rect', symbolSize: 5,
    itemStyle: {color: p.asColor}, silent: true, clip: false});
}
addDotPanel({left: 313, top: 634, width: 97, height: 92.7, xmin: 0.285, xmax: 2.71, ymin: 0, ymax: 3e6, yint: 1e6,
  yfs: 8, yfmt: function (v) { return gTickLabels[Math.round(v / 1e6)]; },
  veh: gVeh, as: gAs, stats: gStats, asColor: '#2020ff', halfW: 13, cap: 7});
addDotPanel({left: 478.3, top: 630.7, width: 63.4, height: 96, xmin: 0.296, xmax: 2.53, ymin: 0, ymax: 25, yint: 5,
  yfs: 10, yfmt: null, veh: h1Veh, as: h1As, stats: h1Stats, asColor: '#000', halfW: 11, cap: 6});
addDotPanel({left: 591.7, top: 628.3, width: 61.3, height: 96.7, xmin: 0.33, xmax: 2.49, ymin: -2, ymax: 10, yint: 2,
  yfs: 10, yfmt: null, veh: h2Veh, as: h2As, stats: h2Stats, asColor: '#000', halfW: 11, cap: 6});
txt(247, 621, 'g', {fontSize: 18, align: 'left', textAlign: 'left'});
txt(650, 623, 'h', {fontSize: 18, align: 'left', textAlign: 'left'});
vtxt(277, 677, 'avg. radiance [p/s/cm2/sr]', {fontSize: 10});
vtxt(453, 677, 'hCD45+ (%) in spleen', {fontSize: 11});
vtxt(568, 673, 'hCD45+ (%) in PB', {fontSize: 11});
var richP = {i: {fontStyle: 'italic', fontSize: 11, fontFamily: FONT}};
txt(387, 677, '{i|p} = 0.0045', {fontSize: 11, rich: richP});
txt(530, 706, '{i|p} = 0.01', {fontSize: 11, rich: richP});
txt(643, 646, '{i|p} = 0.03', {fontSize: 11, rich: richP});

var chart = echarts.init(document.getElementById('main'), null, {renderer: 'canvas'});
chart.setOption(opt);
</script>
</body>
</html>
